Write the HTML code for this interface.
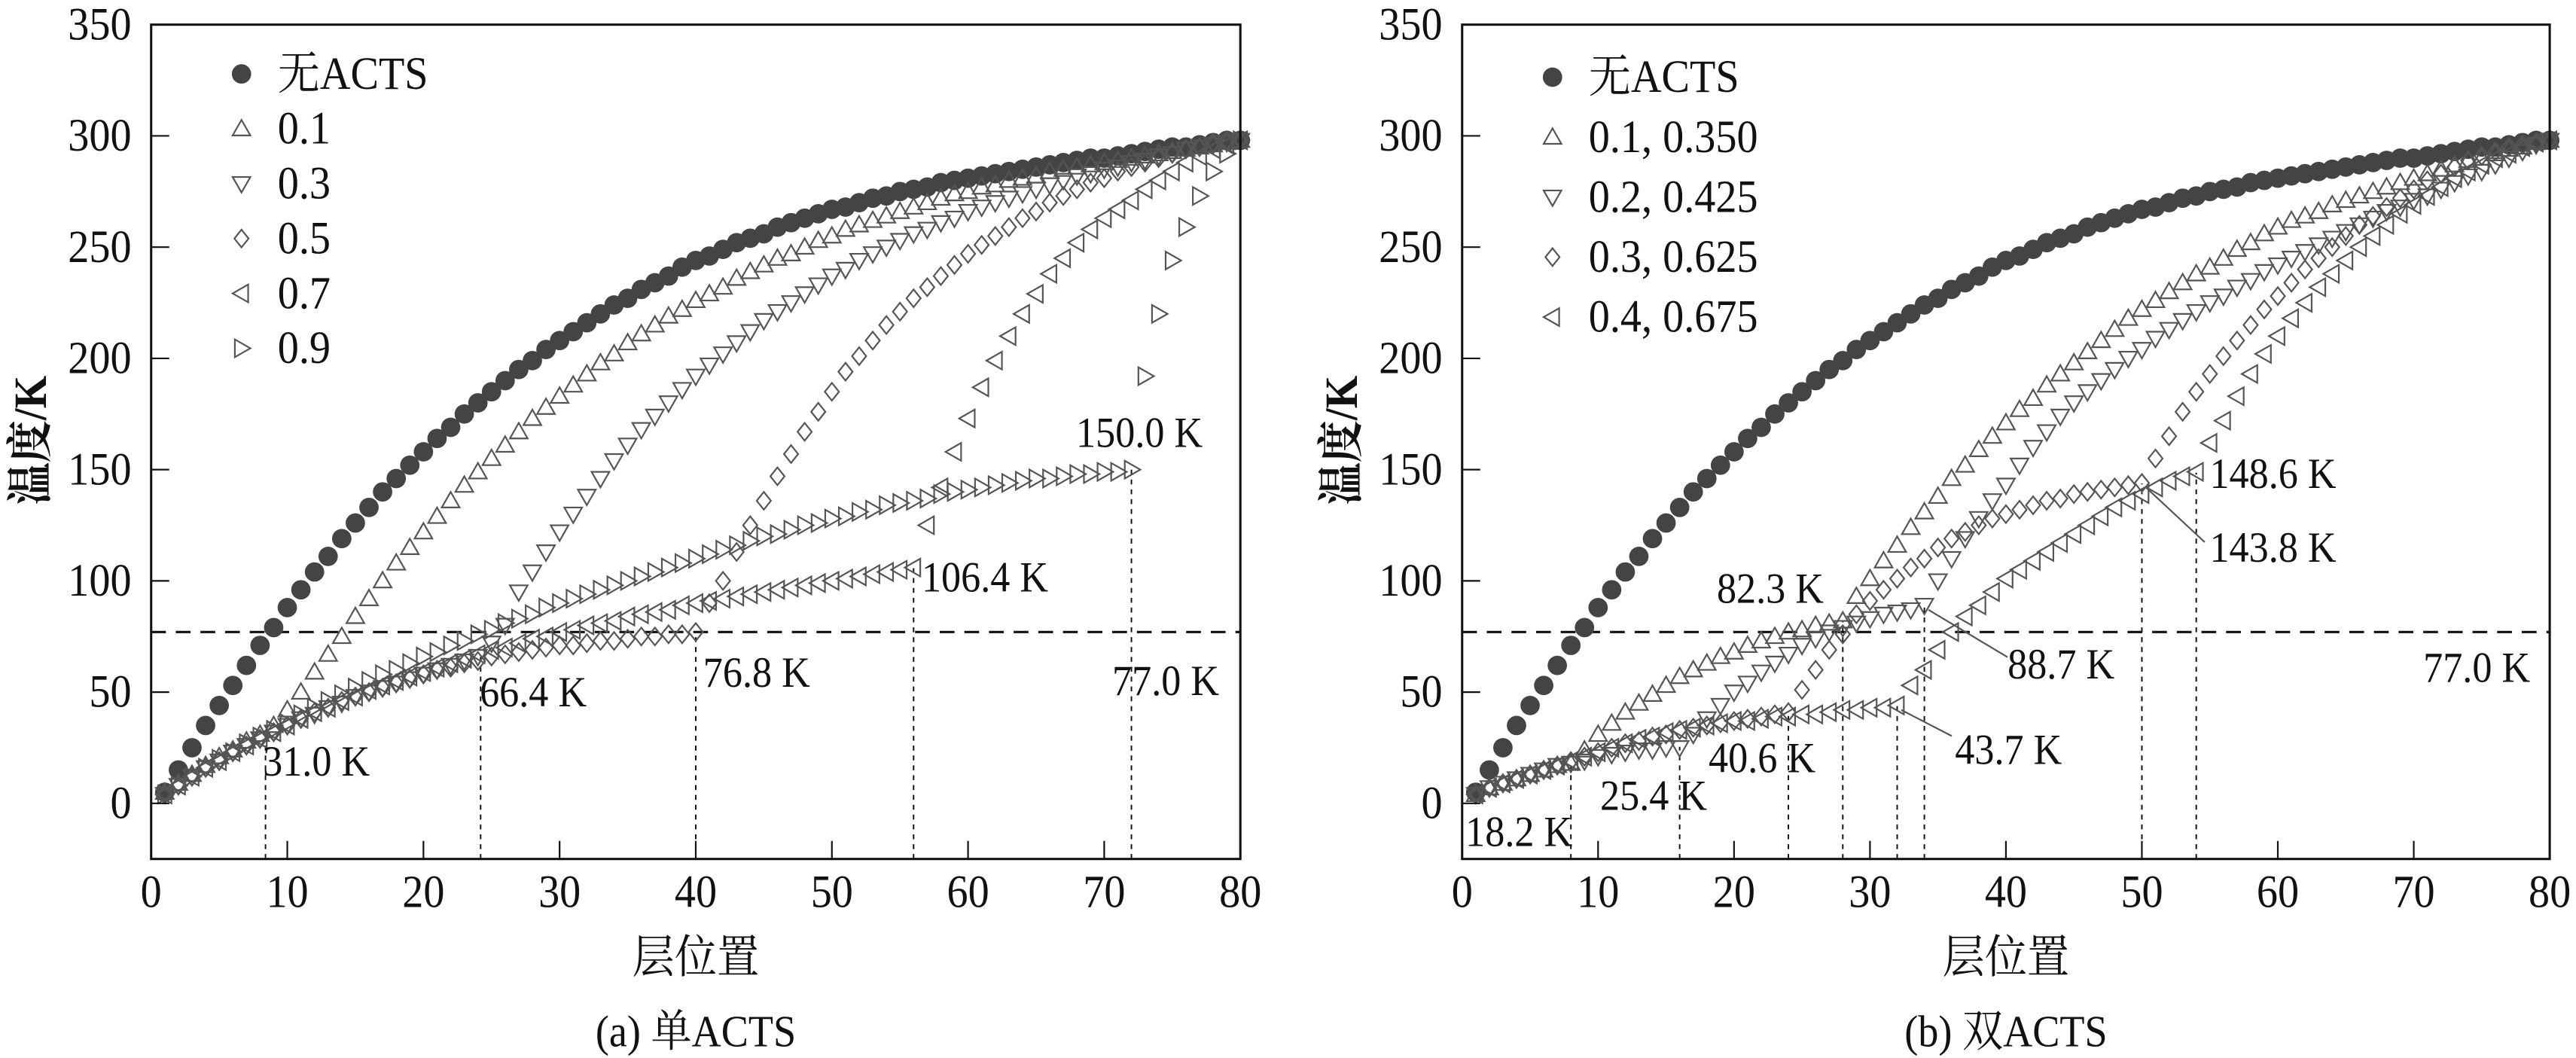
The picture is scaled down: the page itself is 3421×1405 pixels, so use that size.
<!DOCTYPE html>
<html><head><meta charset="utf-8">
<style>
html,body{margin:0;padding:0;background:#fff;}
svg{display:block;}
text{font-family:"Liberation Serif","Noto Serif CJK SC",serif;fill:#111;}
</style></head>
<body>
<svg id="chart" xmlns="http://www.w3.org/2000/svg" width="3421" height="1405" viewBox="0 0 1568 644" preserveAspectRatio="none">
<rect x="0" y="0" width="1568" height="644" fill="#fff"/>
</svg>
<script>
// ---------- data ----------
const layers = Array.from({length:80},(_,i)=>i+1);
const xTicks = [0,10,20,30,40,50,60,70,80];
const yTicks = [0,50,100,150,200,250,300,350];
const refTemp = 77;

const noActs = [5,15,25,35,44,53,62,71,79,88,96,104,111,119,126,133,140,146,152,158,164,169,175,180,185,190,195,199,204,208,212,216,220,224,227,231,234,237,241,244,246,249,252,254,256,259,261,263,265,267,268,270,272,273,275,276,277,279,280,281,282,283,284,285,286,287,288,289,290,290,291,292,293,294,295,295,296,297,298,298];

// (a) single ACTS
const a01 = [5,9,13,17,21,24,28,31,35,42,50,59,67,75,84,92,100,108,115,122,129,136,143,149,155,161,167,173,178,183,188,193,198,202,207,211,215,219,222,226,229,232,236,239,242,245,247,250,253,255,258,260,262,264,266,268,270,272,274,275,277,278,280,281,282,284,285,286,287,288,289,290,291,292,293,294,295,296,297,298];
const a03 = [4,8,12,16,19,23,26,29,32,35,38,40,43,45,48,50,52,54,56,58,60,62,64,66,72,80,95,104,113,122,130,138,146,154,161,168,174,180,186,192,197,202,207,212,217,221,225,229,233,237,240,244,247,250,253,256,258,261,263,266,268,270,272,274,276,278,280,282,283,285,286,288,289,291,292,294,295,296,297,298];
const a05 = [4,8,12,16,19,23,26,29,32,35,38,41,43,46,48,50,52,54,56,58,60,61,63,64,66,67,68,69,70,71,71,72,73,73,74,75,75,76,76,77,90,100,113,125,136,147,157,167,176,185,194,201,208,215,221,227,232,237,242,247,251,255,259,263,266,270,273,276,279,281,284,286,288,290,292,294,295,297,298,298];
const a07 = [4,8,12,16,19,23,26,29,32,35,38,41,43,46,48,51,53,55,57,59,61,63,65,67,69,70,72,74,75,77,78,80,81,82,84,85,86,87,89,90,91,92,93,94,95,96,97,98,99,100,101,102,103,104,105,106,125,142,158,173,187,199,210,220,229,238,245,252,258,263,267,271,276,280,284,288,291,294,296,298];
const a09 = [4,8,12,16,20,23,27,30,33,36,40,43,46,49,52,55,58,60,63,66,68,71,73,76,78,81,83,85,88,90,92,94,96,98,100,102,104,106,108,110,112,114,116,118,120,121,123,125,126,128,129,131,132,134,135,136,137,139,140,141,142,143,144,145,146,146,147,148,148,149,149,150,192,220,244,259,273,284,292,298];

// (b) double ACTS
const b1 = [4,7,9,11,13,15,17,18,24,31,36,41,45,49,53,57,60,63,66,68,71,73,75,77,78,80,81,82,93,101,109,116,124,131,138,146,152,159,165,171,177,182,188,193,198,203,208,213,218,222,226,230,234,238,241,245,249,252,256,259,262,264,266,269,271,273,275,277,279,281,283,285,287,289,290,292,294,295,297,298];
const b2 = [4,7,9,11,13,15,17,18,19,21,22,23,24,24,25,25,31,38,44,50,54,59,63,67,71,74,77,79,81,83,85,86,87,89,100,110,119,128,136,143,152,160,167,174,180,185,190,195,200,204,209,213,217,221,225,228,232,235,239,242,245,248,251,254,257,260,263,266,268,271,273,276,279,282,284,287,290,293,296,298];
const b3 = [4,7,9,11,13,15,17,19,21,23,25,27,28,30,31,33,34,35,36,37,38,39,40,41,51,60,69,76,85,91,96,101,106,110,115,119,122,125,128,130,132,134,136,137,139,140,141,142,143,144,155,165,176,185,193,201,208,215,222,228,234,240,245,250,255,260,264,268,272,276,280,283,286,289,291,293,295,296,297,298];
const b4 = [4,7,9,11,13,15,17,19,21,23,25,27,29,30,32,33,34,35,36,37,37,38,39,39,40,40,41,42,42,43,43,44,53,60,69,77,84,89,95,101,105,109,113,117,121,125,129,133,136,139,142,145,147,149,162,172,183,193,202,210,218,225,232,238,244,250,255,260,265,269,273,277,281,284,287,290,292,295,297,298];

const actsA = [8.4,24.2,40,56,72];
const actsAVals = [31.0,66.4,76.8,106.4,150.0];
const actsB = [8,16,24,28,32,34,50,54];
const actsBVals = [18.2,25.4,40.6,82.3,43.7,88.7,143.8,148.6];

// ---------- drawing ----------
const NS="http://www.w3.org/2000/svg";
const svg=document.getElementById('chart');
const Y0=489, YPU=(489-15)/350, YBOT=489+25*YPU;
function el(tag,attrs,parent){const e=document.createElementNS(NS,tag);for(const k in attrs)e.setAttribute(k,attrs[k]);(parent||svg).appendChild(e);return e;}
function txt(s,x,y,size,anchor,parent){
  const t=el('text',{transform:`translate(${x},${y}) scale(0.92,1)`,'font-size':size,'text-anchor':anchor||'start'},parent);
  t.textContent=s;return t;
}
const INK='#555';
function marker(g,type,cx,cy){
  const s=5.4;let m;
  if(type==='circle'){m=el('circle',{cx:cx,cy:cy,r:5.9,fill:'#444'},g);}
  else if(type==='diamond'){m=el('polygon',{points:`${cx},${cy-s} ${cx+s*0.8},${cy} ${cx},${cy+s} ${cx-s*0.8},${cy}`,fill:'none',stroke:INK,'stroke-width':1.0},g);}
  else{
    let p;
    if(type==='up')p=[[0,-s],[s,s*0.75],[-s,s*0.75]];
    if(type==='down')p=[[0,s],[s,-s*0.75],[-s,-s*0.75]];
    if(type==='left')p=[[-s,0],[s*0.75,-s],[s*0.75,s]];
    if(type==='right')p=[[s,0],[-s*0.75,-s],[-s*0.75,s]];
    m=el('polygon',{points:p.map(q=>(cx+q[0])+','+(cy+q[1])).join(' '),fill:'none',stroke:INK,'stroke-width':1.0},g);
  }
  return m;
}

function panel(name,x0,x1,series,types,labels,legX,legY0,legDy,acts,actsVals,notes,caption){
  const g=el('g',{});
  
  
  const xs=v=>x0+(v/80)*(x1-x0);
  const ys=v=>Y0-v*YPU;
  const rl=el('line',{x1:x0,x2:x1,y1:ys(refTemp),y2:ys(refTemp),stroke:'#111','stroke-width':1.4,'stroke-dasharray':'9,6'},g);
  
  
  acts.forEach((a,i)=>{
    const l=el('line',{x1:xs(a),x2:xs(a),y1:YBOT,y2:ys(actsVals[i]),stroke:'#111','stroke-width':0.9,'stroke-dasharray':'3,3'},g);
    
    
  });
  series.forEach((arr,si)=>{
    const sg=el('g',{},g);
    
    
    arr.forEach((v,i)=>{const m=marker(sg,types[si],xs(layers[i]),ys(v));
      
      });
  });
  const fr=el('rect',{x:x0,y:15,width:x1-x0,height:YBOT-15,fill:'none',stroke:'#111','stroke-width':1.4},g);
  
  
  xTicks.forEach(t=>{
    el('line',{x1:xs(t),x2:xs(t),y1:YBOT,y2:YBOT-11,stroke:'#111','stroke-width':1},g);
    const l=txt(String(t),xs(t),552,28,'middle',g);
    
    
  });
  yTicks.forEach(t=>{
    el('line',{x1:x0,x2:x0+11,y1:ys(t),y2:ys(t),stroke:'#111','stroke-width':1},g);
    const l=txt(String(t),x0-12,ys(t)+9,28,'end',g);
    
    
  });
  const lg=el('g',{},g);
  
  
  labels.forEach((lb,i)=>{
    const y=legY0+i*legDy;
    marker(lg,types[i],legX,y);
    const t=txt(lb,legX+22,y+9,28,'start',lg);
    
    
  });
  notes.forEach(n=>{
    if(n.lx!==undefined){el('line',{x1:xs(n.lx),y1:ys(n.ly),x2:n.ex,y2:n.ey,stroke:'#555','stroke-width':1},g);}
    const t=txt(n.s,n.x,n.y,26,'start',g);
    
    
  });
  const cx=(x0+x1)/2;
  const xt=txt('层位置',cx,592,28,'middle',g);
  
  
  const cp=txt(caption,cx,637,27,'middle',g);
  
  
  const yt=el('text',{transform:`translate(${x0-64},268) rotate(-90) scale(0.92,1)`,'font-size':28,'text-anchor':'middle','font-weight':'bold'},g);
  yt.textContent='温度/K';
  
  
}

panel('panel-a-single-acts',92,755,[noActs,a01,a03,a05,a07,a09],
  ['circle','up','down','diamond','left','right'],
  ['无ACTS','0.1','0.3','0.5','0.7','0.9'],147,45,33.4,actsA,actsAVals,
  [{s:'31.0 K',x:160,y:472},{s:'66.4 K',x:292,y:430},{s:'76.8 K',x:428,y:418},
   {s:'106.4 K',x:561,y:360},{s:'77.0 K',x:677,y:423},{s:'150.0 K',x:655,y:272}],
  '(a) 单ACTS');

panel('panel-b-double-acts',890,1552,[noActs,b1,b2,b3,b4],
  ['circle','up','down','diamond','left'],
  ['无ACTS','0.1, 0.350','0.2, 0.425','0.3, 0.625','0.4, 0.675'],945,47,36.5,actsB,actsBVals,
  [{s:'18.2 K',x:892,y:515},{s:'25.4 K',x:974,y:493},{s:'40.6 K',x:1040,y:470},
   {s:'82.3 K',x:1045,y:367},{s:'88.7 K',x:1222,y:413,lx:34.3,ly:87,ex:1222,ey:400},
   {s:'43.7 K',x:1190,y:465,lx:32.3,ly:42,ex:1188,ey:448},
   {s:'148.6 K',x:1345,y:297},{s:'143.8 K',x:1345,y:342,lx:50.3,ly:142,ex:1342,ey:330},
   {s:'77.0 K',x:1475,y:415}],
  '(b) 双ACTS');
</script>
</body></html>
